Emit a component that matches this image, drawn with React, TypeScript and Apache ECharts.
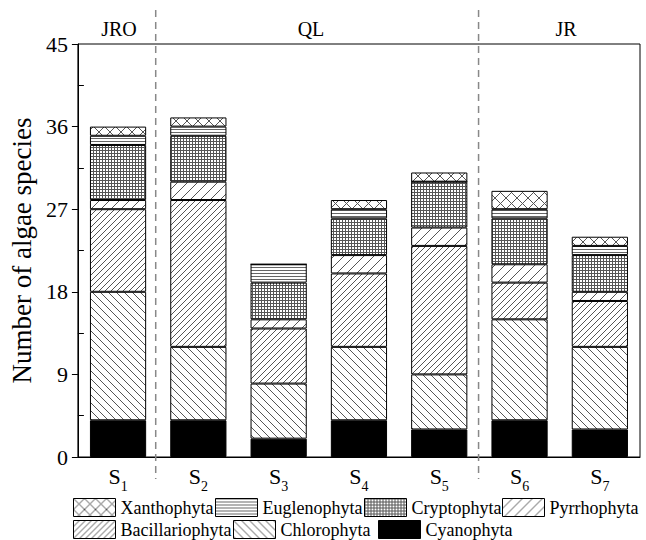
import React, { useEffect, useRef } from 'react';
import * as echarts from 'echarts';

// ---- data ----
const sites = ['S1', 'S2', 'S3', 'S4', 'S5', 'S6', 'S7'];
const siteNumbers = ['1', '2', '3', '4', '5', '6', '7'];
const cyanophyta = [4, 4, 2, 4, 3, 4, 3];
const chlorophyta = [14, 8, 6, 8, 6, 11, 9];
const bacillariophyta = [9, 16, 6, 8, 14, 4, 5];
const pyrrhophyta = [1, 2, 1, 2, 2, 2, 1];
const cryptophyta = [6, 5, 4, 4, 5, 5, 4];
const euglenophyta = [1, 1, 2, 1, 0, 1, 1];
const xanthophyta = [1, 1, 0, 1, 1, 2, 1];
const regions = ['JRO', 'QL', 'JR'];
const yMin = 0;
const yMax = 45;
const yInterval = 9;

const FONT = '"Liberation Serif", "Times New Roman", serif';

function tile(w: number, h: number, color: string, on: (x: number, y: number) => boolean) {
  const c = document.createElement('canvas');
  c.width = w;
  c.height = h;
  const ctx = c.getContext('2d')!;
  ctx.fillStyle = '#fff';
  ctx.fillRect(0, 0, w, h);
  ctx.fillStyle = color;
  for (let y = 0; y < h; y++) for (let x = 0; x < w; x++) if (on(x, y)) ctx.fillRect(x, y, 1, 1);
  return { image: c, repeat: 'repeat', imageWidth: w, imageHeight: h } as any;
}

export default function App() {
  const ref = useRef<HTMLDivElement>(null);
  useEffect(() => {
    if (!ref.current) return;
    const chart = echarts.init(ref.current, null, { renderer: 'svg' });

    const patterns: Record<string, any> = {
      Xanthophyta: tile(11, 11, '#555', (x, y) => x === y || x + y === 10),
      Euglenophyta: tile(4, 3, '#666', (_x, y) => y === 0),
      Cryptophyta: tile(3, 3, '#555', (x, y) => x === 0 || y === 0),
      Pyrrhophyta: tile(10, 10, '#555', (x, y) => x + y === 9),
      Bacillariophyta: tile(6, 6, '#555', (x, y) => x + y === 5),
      Chlorophyta: tile(8, 8, '#555', (x, y) => x === y),
      Cyanophyta: '#000',
    };

    const seriesDefs: [string, number[]][] = [
      ['Cyanophyta', cyanophyta],
      ['Chlorophyta', chlorophyta],
      ['Bacillariophyta', bacillariophyta],
      ['Pyrrhophyta', pyrrhophyta],
      ['Cryptophyta', cryptophyta],
      ['Euglenophyta', euglenophyta],
      ['Xanthophyta', xanthophyta],
    ];

    const legendLayout: [string, number, number][] = [
      ['Xanthophyta', 73, 498],
      ['Euglenophyta', 215, 498],
      ['Cryptophyta', 364, 498],
      ['Pyrrhophyta', 502, 498],
      ['Bacillariophyta', 73, 520],
      ['Chlorophyta', 233, 520],
      ['Cyanophyta', 378, 520],
    ];

    const gridLeft = 75;
    const gridRight = 6;
    const gridTop = 44;
    const gridBottom = 83;
    const plotW = 646 - gridLeft - gridRight;
    const band = plotW / sites.length;
    const dividerX = [gridLeft + band, gridLeft + band * 5];
    const regionX = [119, 311, 566];

    const graphics: any[] = [];
    dividerX.forEach((x) => {
      graphics.push({
        type: 'line',
        shape: { x1: x, y1: 10, x2: x, y2: 479 },
        style: { stroke: '#888', lineWidth: 1.5, lineDash: [7, 5] },
        z: 10,
      });
    });
    regions.forEach((r, i) => {
      graphics.push({
        type: 'text',
        x: regionX[i],
        y: 29,
        style: {
          text: r,
          fontFamily: FONT,
          fontSize: 20,
          fill: '#000',
          align: 'center',
          verticalAlign: 'middle',
        },
      });
    });

    chart.setOption({
      animation: false,
      backgroundColor: '#fff',
      grid: {
        left: gridLeft,
        right: gridRight,
        top: gridTop,
        bottom: gridBottom,
        show: true,
        borderColor: '#000',
        borderWidth: 1,
        backgroundColor: 'transparent',
      },
      legend: legendLayout.map(([name, left, top]) => ({
        data: [name],
        left,
        top,
        padding: 0,
        itemWidth: 42,
        itemHeight: 18,
        icon: 'rect',
        selectedMode: false,
        itemStyle: { borderColor: '#000', borderWidth: 1 },
        textStyle: { fontFamily: FONT, fontSize: 18, color: '#000' },
      })),
      xAxis: {
        type: 'category',
        data: sites,
        axisLine: { lineStyle: { color: '#000', width: 1 } },
        axisTick: { show: false },
        axisLabel: {
          margin: 8,
          formatter: (_v: string, i: number) => `{s|S}{n|${siteNumbers[i]}}`,
          rich: {
            s: { fontFamily: FONT, fontSize: 22, color: '#000', verticalAlign: 'middle', padding: [0, 0, 5, 0] },
            n: { fontFamily: FONT, fontSize: 14, color: '#000', verticalAlign: 'middle', padding: [14, 0, 0, 0] },
          },
        },
      },
      yAxis: {
        type: 'value',
        min: yMin,
        max: yMax,
        interval: yInterval,
        name: 'Number of algae species',
        nameLocation: 'middle',
        nameGap: 42,
        nameTextStyle: { fontFamily: FONT, fontSize: 27, color: '#000' },
        axisLine: { show: true, lineStyle: { color: '#000', width: 1 } },
        axisTick: { show: true, length: 6, lineStyle: { color: '#000' } },
        minorTick: { show: true, splitNumber: 2, length: -6, lineStyle: { color: '#000' } },
        splitLine: { show: false },
        axisLabel: { fontFamily: FONT, fontSize: 22, color: '#000', margin: 10 },
      },
      graphic: graphics,
      series: seriesDefs.map(([name, data]) => ({
        name,
        type: 'bar',
        stack: 'total',
        data,
        barWidth: '70%',
        itemStyle: { color: patterns[name], borderColor: '#000', borderWidth: 1 },
        emphasis: { disabled: true },
      })),
    });
    return () => chart.dispose();
  }, []);
  return <div ref={ref} style={{ position: 'absolute', left: 0, top: 0, width: 646, height: 540 }} />;
}
